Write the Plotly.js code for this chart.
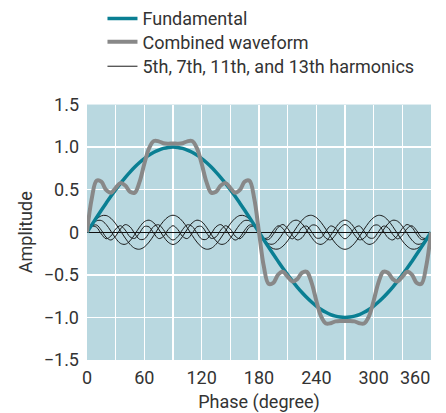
<!DOCTYPE html>
<html>
<head>
<meta charset="utf-8">
<script src="https://cdn.plot.ly/plotly-3.0.1.min.js"></script>
<style>html,body{margin:0;padding:0;background:#fff;}#chart{width:446px;height:413px;}</style>
</head>
<body>
<div id="chart"></div>
<script>
// Phase in degrees (5-degree samples)
var phase = [0,5,10,15,20,25,30,35,40,45,50,55,60,65,70,75,80,85,90,
  95,100,105,110,115,120,125,130,135,140,145,150,155,160,165,170,175,180,
  185,190,195,200,205,210,215,220,225,230,235,240,245,250,255,260,265,270,
  275,280,285,290,295,300,305,310,315,320,325,330,335,340,345,350,355,360];

var fundamental = [0,.087,.174,.259,.342,.423,.5,.574,.643,.707,.766,.819,.866,.906,.94,.966,.985,.996,1,
  .996,.985,.966,.94,.906,.866,.819,.766,.707,.643,.574,.5,.423,.342,.259,.174,.087,0,
  -.087,-.174,-.259,-.342,-.423,-.5,-.574,-.643,-.707,-.766,-.819,-.866,-.906,-.94,-.966,-.985,-.996,-1,
  -.996,-.985,-.966,-.94,-.906,-.866,-.819,-.766,-.707,-.643,-.574,-.5,-.423,-.342,-.259,-.174,-.087,0];

var combined = [0,.398,.605,.594,.497,.464,.522,.577,.55,.475,.465,.591,.804,.989,1.071,1.068,1.046,1.041,1.043,
  1.041,1.046,1.068,1.071,.989,.804,.591,.465,.475,.55,.577,.522,.464,.497,.594,.605,.398,0,
  -.398,-.605,-.594,-.497,-.464,-.522,-.577,-.55,-.475,-.465,-.591,-.804,-.989,-1.071,-1.068,-1.046,-1.041,-1.043,
  -1.041,-1.046,-1.068,-1.071,-.989,-.804,-.591,-.465,-.475,-.55,-.577,-.522,-.464,-.497,-.594,-.605,-.398,0];

var harmonic5 = [0,.085,.153,.193,.197,.164,.1,.017,-.068,-.141,-.188,-.199,-.173,-.115,-.035,.052,.129,.181,.2,
  .181,.129,.052,-.035,-.115,-.173,-.199,-.188,-.141,-.068,.017,.1,.164,.197,.193,.153,.085,0,
  -.085,-.153,-.193,-.197,-.164,-.1,-.017,.068,.141,.188,.199,.173,.115,.035,-.052,-.129,-.181,-.2,
  -.181,-.129,-.052,.035,.115,.173,.199,.188,.141,.068,-.017,-.1,-.164,-.197,-.193,-.153,-.085,0];

var harmonic7 = [0,.082,.134,.138,.092,.013,-.071,-.13,-.141,-.101,-.025,.06,.124,.142,.109,.037,-.049,-.117,-.143,
  -.117,-.049,.037,.109,.142,.124,.06,-.025,-.101,-.141,-.13,-.071,.013,.092,.138,.134,.082,0,
  -.082,-.134,-.138,-.092,-.013,.071,.13,.141,.101,.025,-.06,-.124,-.142,-.109,-.037,.049,.117,.143,
  .117,.049,-.037,-.109,-.142,-.124,-.06,.025,.101,.141,.13,.071,-.013,-.092,-.138,-.134,-.082,0];

var harmonic11 = [0,.074,.085,.024,-.058,-.091,-.045,.038,.09,.064,-.016,-.082,-.079,-.008,.07,.088,.031,-.052,-.091,
  -.052,.031,.088,.07,-.008,-.079,-.082,-.016,.064,.09,.038,-.045,-.091,-.058,.024,.085,.074,0,
  -.074,-.085,-.024,.058,.091,.045,-.038,-.09,-.064,.016,.082,.079,.008,-.07,-.088,-.031,.052,.091,
  .052,-.031,-.088,-.07,.008,.079,.082,.016,-.064,-.09,-.038,.045,.091,.058,-.024,-.085,-.074,0];

var harmonic13 = [0,.07,.059,-.02,-.076,-.044,.038,.077,.026,-.054,-.072,-.007,.067,.063,-.013,-.074,-.049,.033,.077,
  .033,-.049,-.074,-.013,.063,.067,-.007,-.072,-.054,.026,.077,.038,-.044,-.076,-.02,.059,.07,0,
  -.07,-.059,.02,.076,.044,-.038,-.077,-.026,.054,.072,.007,-.067,-.063,.013,.074,.049,-.033,-.077,
  -.033,.049,.074,.013,-.063,-.067,.007,.072,.054,-.026,-.077,-.038,.044,.076,.02,-.059,-.07,0];

var xTickVals = [0,30,60,90,120,150,180,210,240,270,300,330,360];
var xTickText = ['0','','60','','120','','180','','240','','300','',''];
var lastXLabel = '360';
var yTickVals = [-1.5,-1,-0.5,0,0.5,1,1.5];
var yTickText = ['\u22121.5','\u22121.0','\u22120.5','0','0.5','1.0','1.5'];

var harmonics = [harmonic5, harmonic7, harmonic11, harmonic13];
var traces = [];
harmonics.forEach(function (h, i) {
  traces.push({
    x: phase, y: h, type: 'scatter', mode: 'lines',
    line: {color: '#1a1a1a', width: 1, shape: 'spline', smoothing: 1},
    name: '5th, 7th, 11th, and 13th harmonics',
    legendgroup: 'harm', showlegend: i === 0, legend: 'legend3'
  });
});
traces.push({
  x: phase, y: fundamental, type: 'scatter', mode: 'lines',
  line: {color: '#0a7f93', width: 3.5, shape: 'spline', smoothing: 1},
  name: 'Fundamental', legend: 'legend'
});
traces.push({
  x: phase, y: combined, type: 'scatter', mode: 'lines',
  line: {color: '#888888', width: 4, shape: 'spline', smoothing: 1},
  name: 'Combined waveform', legend: 'legend2'
});

var font = {family: "Roboto, sans-serif", size: 18, color: '#333333'};
function legendAt(y) {
  return {x: 0.045, y: y, xanchor: 'left', yanchor: 'middle',
    bgcolor: 'rgba(0,0,0,0)', font: font, borderwidth: 0};
}

var layout = {
  width: 446, height: 413,
  margin: {l: 87, r: 15, t: 0, b: 53},
  paper_bgcolor: '#ffffff',
  plot_bgcolor: '#b9d8e0',
  font: font,
  showlegend: true,
  legend: legendAt(0.9722),
  legend2: legendAt(0.9056),
  legend3: legendAt(0.8361),
  xaxis: {
    range: [0, 360], tickvals: xTickVals, ticktext: xTickText,
    showgrid: true, gridcolor: '#ffffff', gridwidth: 1.5,
    zeroline: false, showline: false, ticks: '',
    ticklabelstandoff: 5,
    title: {text: 'Phase (degree)', font: font, standoff: 8},
    tickfont: font
  },
  yaxis: {
    domain: [0, 0.7278],
    range: [-1.5, 1.5], tickvals: yTickVals, ticktext: yTickText,
    showgrid: true, gridcolor: '#ffffff', gridwidth: 1.5,
    zeroline: true, zerolinecolor: '#111111', zerolinewidth: 1,
    showline: false, ticks: '', ticklabelstandoff: 7,
    title: {text: 'Amplitude', font: font, standoff: 6},
    tickfont: font
  },
  annotations: [{
    x: 360, xref: 'x', y: 0, yref: 'paper',
    text: lastXLabel, showarrow: false,
    xanchor: 'right', yanchor: 'top', yshift: -5, xshift: 1,
    font: font
  }]
};

Plotly.newPlot('chart', traces, layout, {displayModeBar: false, staticPlot: true});
</script>
</body>
</html>
